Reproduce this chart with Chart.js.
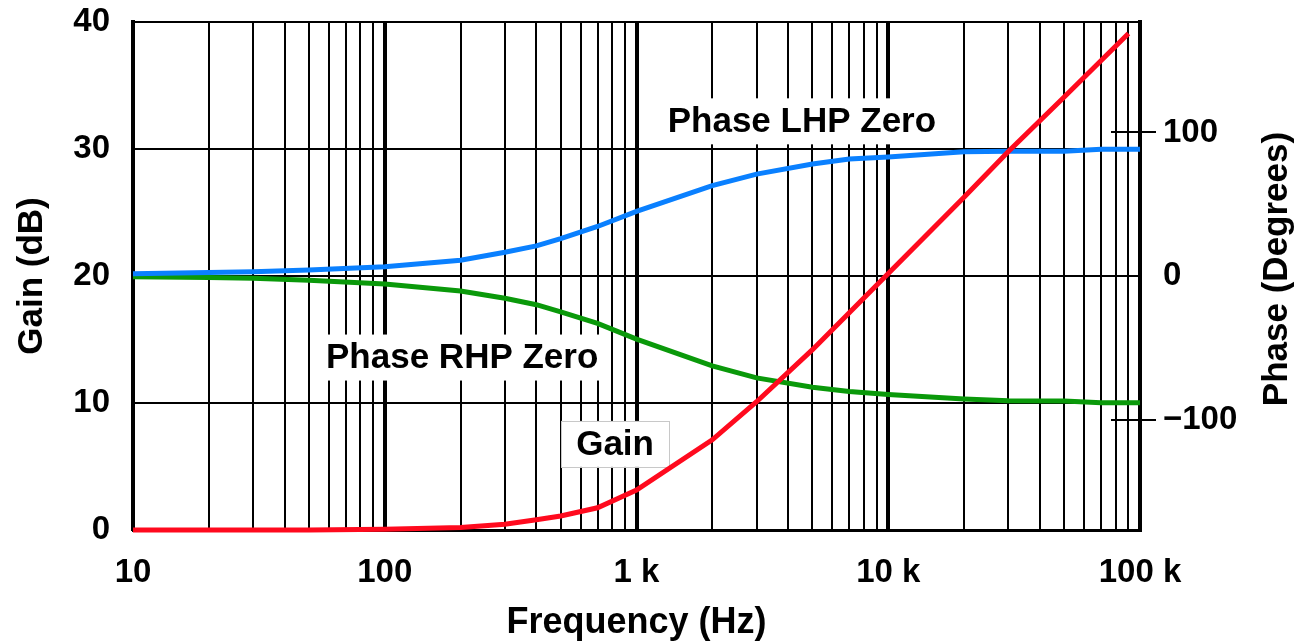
<!DOCTYPE html>
<html>
<head>
<meta charset="utf-8">
<script src="https://cdn.jsdelivr.net/npm/chart.js@4/dist/chart.umd.min.js"></script>
<style>
  html, body { margin: 0; padding: 0; background: #fff; }
  canvas { display: block; }
</style>
</head>
<body>
<canvas id="bode" width="1310" height="642"></canvas>
<script>
// Gain of the converter (dB) versus frequency (Hz)
const gainFreq = [10, 20, 50, 100, 200, 300, 400, 500, 700, 1000, 2000, 3000, 5000, 7000, 10000, 20000, 30000, 50000, 90000];
const gainDb   = [0, 0, 0, 0.05, 0.2, 0.45, 0.8, 1.1, 1.75, 3.15, 7.1, 10.1, 14.2, 17.1, 20.2, 26.2, 29.8, 34.1, 39.1];

// Phase (degrees) of a left-half-plane zero and a right-half-plane zero
const phaseFreq = [10, 20, 30, 50, 100, 200, 300, 400, 500, 700, 1000, 2000, 3000, 5000, 7000, 10000, 20000, 30000, 50000, 70000, 100000];
const phaseLhp  = [1.5, 2.5, 3, 4.2, 6.5, 11, 16.5, 21, 26, 34.5, 45, 63, 71, 78, 81.5, 83, 86.5, 87, 87, 88.3, 88.3];
const phaseRhp  = [-0.5, -1, -1.5, -3, -5.5, -10.5, -15.5, -20, -25, -33, -44, -62.7, -71, -77.5, -80.5, -82.5, -85.7, -87, -87.1, -88.3, -88.3];

// Axis ticks and labels
const freqLabelValues = [10, 100, 1000, 10000, 100000];
const freqLabelText   = ['10', '100', '1 k', '10 k', '100 k'];
const gainTicks       = [0, 10, 20, 30, 40];
const phaseTicks      = [-100, 0, 100];
const phaseTickText   = ['\u2212100', '0', '100'];
const phaseMarks      = [-100, 100];

// Log grid: 1..9 per decade
const freqGrid = [];
for (let e = 1; e <= 4; e++) {
  for (let m = 1; m <= 9; m++) freqGrid.push(m * Math.pow(10, e));
}
freqGrid.push(100000);

// Curve labels, anchored in (frequency, gain) coordinates
const curveNotes = [
  { text: 'Phase LHP Zero', freq: 4540, gain: 32.1, padX: 10, frame: false },
  { text: 'Phase RHP Zero', freq: 203,  gain: 13.5, padX: 7,  frame: false },
  { text: 'Gain',           freq: 822,  gain: 6.7,  padX: 15, frame: true }
];

const FONT = "'Liberation Sans', Arial, Helvetica, sans-serif";
const toXY = (xs, ys) => xs.map((x, i) => ({ x: x, y: ys[i] }));

// vertical axes: keep the plot top flush with the layout padding
const noVerticalOverflow = s => { s.paddingTop = 0; s.paddingBottom = 0; };

const notesPlugin = {
  id: 'curveNotes',
  beforeDatasetsDraw(chart) {
    const ctx = chart.ctx;
    const xs = chart.scales.x, ys = chart.scales.gain;
    ctx.save();
    ctx.font = 'bold 35px ' + FONT;
    ctx.textAlign = 'center';
    ctx.textBaseline = 'middle';
    curveNotes.forEach(n => {
      const px = xs.getPixelForValue(n.freq);
      const py = ys.getPixelForValue(n.gain);
      const w = ctx.measureText(n.text).width + 2 * n.padX;
      const h = 46;
      ctx.fillStyle = '#fff';
      ctx.fillRect(px - w / 2, py - h / 2 - 1, w, h);
      if (n.frame) {
        ctx.strokeStyle = '#c8c8c8';
        ctx.lineWidth = 1;
        ctx.strokeRect(Math.round(px - w / 2) + 0.5, Math.round(py - h / 2 - 1) + 0.5, Math.round(w), h);
      }
      ctx.fillStyle = '#000';
      ctx.fillText(n.text, px, py);
    });
    ctx.restore();
  },
  afterDraw(chart) {
    const ctx = chart.ctx;
    const area = chart.chartArea;
    const ps = chart.scales.phase;
    ctx.save();
    // short tick marks across the right frame
    ctx.strokeStyle = '#000';
    ctx.lineWidth = 2;
    phaseMarks.forEach(v => {
      const y = Math.round(ps.getPixelForValue(v));
      ctx.beginPath();
      ctx.moveTo(area.right - 29, y);
      ctx.lineTo(area.right + 16, y);
      ctx.stroke();
    });
    // right axis title, reading bottom to top
    ctx.translate(area.right + 137, (area.top + area.bottom) / 2 - 7);
    ctx.rotate(-Math.PI / 2);
    ctx.font = 'bold 35px ' + FONT;
    ctx.fillStyle = '#000';
    ctx.textAlign = 'center';
    ctx.textBaseline = 'middle';
    ctx.fillText('Phase (Degrees)', 0, 0);
    ctx.restore();
  }
};

new Chart(document.getElementById('bode'), {
  type: 'line',
  data: {
    datasets: [
      { label: 'Gain', data: toXY(gainFreq, gainDb), yAxisID: 'gain',
        borderColor: '#ff0a1e', borderWidth: 5, pointRadius: 0, tension: 0, clip: false },
      { label: 'Phase LHP Zero', data: toXY(phaseFreq, phaseLhp), yAxisID: 'phase',
        borderColor: '#0a80ff', borderWidth: 5, pointRadius: 0, tension: 0, clip: false },
      { label: 'Phase RHP Zero', data: toXY(phaseFreq, phaseRhp), yAxisID: 'phase',
        borderColor: '#0a990a', borderWidth: 5, pointRadius: 0, tension: 0, clip: false }
    ]
  },
  options: {
    responsive: false,
    animation: false,
    devicePixelRatio: 1,
    layout: { padding: { top: 22, left: 0, right: 0, bottom: 0 } },
    plugins: { legend: { display: false }, tooltip: { enabled: false } },
    scales: {
      x: {
        type: 'logarithmic',
        position: 'bottom',
        min: 10,
        max: 100000,
        afterBuildTicks: s => { s.ticks = freqGrid.map(v => ({ value: v })); },
        afterFit: s => { s.height = 112; s.paddingLeft = 0; s.paddingRight = 0; },
        ticks: {
          autoSkip: false,
          maxRotation: 0,
          minRotation: 0,
          padding: 23,
          color: '#000',
          font: { family: FONT, size: 33, weight: 'bold' },
          callback: v => {
            const i = freqLabelValues.indexOf(v);
            return i < 0 ? '' : freqLabelText[i];
          }
        },
        grid: {
          color: '#000',
          drawTicks: false,
          lineWidth: c => (c.tick && freqLabelValues.includes(c.tick.value)) ? 4 : 2
        },
        border: { color: '#000', width: 3 },
        title: {
          display: true,
          text: 'Frequency (Hz)',
          color: '#000',
          padding: 0,
          font: { family: FONT, size: 36, weight: 'bold', lineHeight: 1.05 }
        }
      },
      gain: {
        type: 'linear',
        position: 'left',
        min: 0,
        max: 40,
        afterBuildTicks: s => { s.ticks = gainTicks.map(v => ({ value: v })); },
        afterFit: s => { s.width = 133; noVerticalOverflow(s); },
        ticks: {
          padding: 23,
          color: '#000',
          font: { family: FONT, size: 33, weight: 'bold' }
        },
        grid: { color: '#000', lineWidth: 2, drawTicks: false },
        border: { color: '#000', width: 4 },
        title: {
          display: true,
          text: 'Gain (dB)',
          color: '#000',
          padding: { top: 11, bottom: 0 },
          font: { family: FONT, size: 35, weight: 'bold' }
        }
      },
      phase: {
        type: 'linear',
        position: 'right',
        min: -177,
        max: 177,
        afterBuildTicks: s => { s.ticks = phaseTicks.map(v => ({ value: v })); },
        afterFit: s => { s.width = 170; noVerticalOverflow(s); },
        ticks: {
          padding: 23,
          color: '#000',
          font: { family: FONT, size: 33, weight: 'bold' },
          callback: v => {
            const i = phaseTicks.indexOf(v);
            return i < 0 ? '' : phaseTickText[i];
          }
        },
        grid: { drawOnChartArea: false, drawTicks: false },
        border: { color: '#000', width: 4 }
      }
    }
  },
  plugins: [notesPlugin]
});
</script>
</body>
</html>
